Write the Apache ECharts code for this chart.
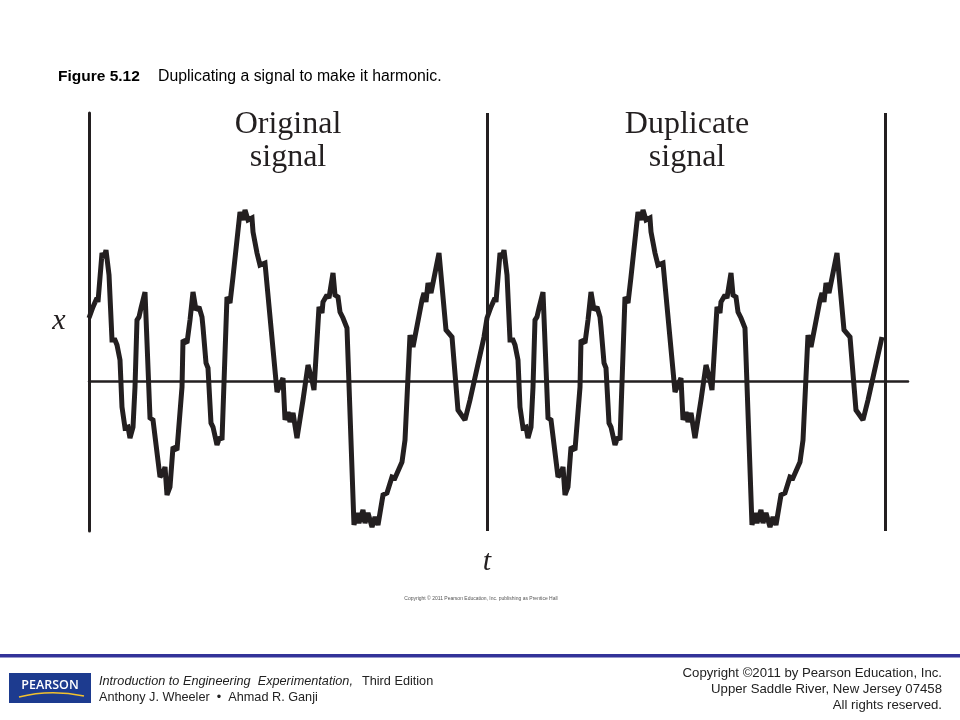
<!DOCTYPE html>
<html>
<head>
<meta charset="utf-8">
<script src="https://cdn.jsdelivr.net/npm/echarts@6/dist/echarts.min.js"></script>
<style>
  html, body { margin: 0; padding: 0; background: #ffffff; }
  #chart { width: 960px; height: 720px; }
</style>
</head>
<body>
<div id="chart"></div>
<script>
// time (one period = 100 units) of the original signal
var tOriginal = [0,1.0,2.0,2.26,3.27,3.77,4.27,4.77,5.03,5.53,
  5.78,6.53,7.04,7.54,7.79,8.29,8.54,9.05,9.80,10.30,
  11.06,11.56,12.06,12.56,13.07,13.57,14.07,15.33,16.08,17.84,
  18.59,19.10,19.60,20.35,21.11,22.11,23.37,23.62,24.62,25.38,
  26.13,26.88,27.64,28.39,28.64,29.40,29.90,30.65,31.16,32.16,
  32.91,33.42,34.67,35.43,36.18,37.94,38.69,39.20,39.95,40.95,
  41.21,41.71,42.21,42.96,44.22,47.24,47.99,48.74,49.25,50.00,
  50.50,51.26,52.26,53.77,55.03,56.03,56.53,57.79,58.54,58.79,
  59.80,60.30,61.31,61.81,62.56,63.07,63.82,64.82,66.58,67.34,
  67.84,68.84,69.35,70.10,71.11,71.86,72.61,73.87,74.87,76.13,
  76.88,78.64,79.40,80.65,81.41,83.67,84.17,84.67,85.18,85.93,
  87.94,89.70,91.21,92.71,94.47,95.73,99.25];
// signal amplitude of the original signal
var xOriginal = [1.26,1.48,1.66,1.58,2.56,2.46,2.62,2.62,2.12,2.08,
  0.82,0.82,0.72,0.72,0.42,-0.52,-0.54,-0.94,-0.92,-1.14,
  -0.92,-0.12,1.22,1.28,1.46,1.62,1.78,-0.74,-0.78,-1.92,
  -1.84,-1.72,-2.28,-2.12,-1.32,-1.38,-0.12,0.82,0.76,1.22,
  1.78,1.42,1.48,1.28,1.08,0.36,0.26,-0.84,-0.92,-1.28,
  -1.12,-1.18,1.68,1.56,2.08,3.38,3.22,3.42,3.22,3.26,
  2.98,3.02,2.56,2.32,2.36,-0.22,-0.08,0.06,-0.78,-0.62,
  -0.82,-0.64,-1.14,-0.38,0.32,0.02,-0.18,1.48,1.36,1.58,
  1.72,1.66,2.16,1.72,1.68,1.38,1.26,1.06,-2.88,-2.64,
  -2.84,-2.58,-2.84,-2.64,-2.92,-2.72,-2.88,-2.28,-2.24,-1.92,
  -1.94,-1.62,-1.18,0.92,0.68,1.62,1.76,1.58,1.96,1.76,
  2.56,1.02,0.88,-0.58,-0.78,-0.38,0.88];
var period = 100;
var boundaries = [100, 200];
var sectionLabels = ['Original\nsignal', 'Duplicate\nsignal'];

var signalData = [];
for (var k = 0; k < 2; k++) {
  for (var i = 0; i < tOriginal.length; i++) {
    signalData.push([tOriginal[i] + k * period, xOriginal[i]]);
  }
}

var ink = '#231f20';
var sans = '"Liberation Sans", Arial, sans-serif';
var serif = '"Liberation Serif", "Times New Roman", serif';
var chart = echarts.init(document.getElementById('chart'), null, { renderer: 'canvas' });
var option = {
  backgroundColor: '#ffffff',
  animation: false,
  grid: { left: 89, top: 113, width: 819, height: 418, containLabel: false },
  xAxis: {
    type: 'value', min: 0, max: 205.78,
    axisLine: { show: true, onZero: true, lineStyle: { color: ink, width: 2.5 } },
    axisTick: { show: false }, axisLabel: { show: false }, splitLine: { show: false }
  },
  yAxis: {
    type: 'value', min: -3, max: 5.36,
    axisLine: { show: true, lineStyle: { color: ink, width: 3 } },
    axisTick: { show: false }, axisLabel: { show: false }, splitLine: { show: false }
  },
  series: [{
    type: 'line',
    data: signalData,
    showSymbol: false,
    symbol: 'none',
    lineStyle: { color: ink, width: 5, join: 'miter', miterLimit: 1.8 },
    silent: true,
    markLine: {
      silent: true,
      symbol: 'none',
      label: { show: false },
      lineStyle: { color: ink, width: 3, type: 'solid' },
      data: boundaries.map(function (b) { return { xAxis: b }; })
    }
  }],
  graphic: [
    { type: 'text', x: 58, y: 77, style: { text: 'Figure 5.12', font: 'bold 15.5px ' + sans, fill: '#000', verticalAlign: 'middle' } },
    { type: 'text', x: 158, y: 77, style: { text: 'Duplicating a signal to make it harmonic.', font: '15.8px ' + sans, fill: '#000', verticalAlign: 'middle' } },
    { type: 'text', x: 288, y: 141, style: { text: sectionLabels[0], font: '32px ' + serif, fill: ink, align: 'center', verticalAlign: 'middle', lineHeight: 33 } },
    { type: 'text', x: 687, y: 141, style: { text: sectionLabels[1], font: '32px ' + serif, fill: ink, align: 'center', verticalAlign: 'middle', lineHeight: 33 } },
    { type: 'text', x: 59, y: 321, style: { text: 'x', font: 'italic 30px ' + serif, fill: ink, align: 'center', verticalAlign: 'middle' } },
    { type: 'text', x: 487, y: 562, style: { text: 't', font: 'italic 30px ' + serif, fill: ink, align: 'center', verticalAlign: 'middle' } },
    { type: 'text', x: 481, y: 599, style: { text: 'Copyright \u00a9 2011 Pearson Education, Inc. publishing as Prentice Hall', font: '5px ' + sans, fill: '#555', align: 'center', verticalAlign: 'middle' } },
    { type: 'rect', shape: { x: 0, y: 654, width: 960, height: 3.5 }, style: { fill: '#333399' } },
    { type: 'rect', shape: { x: 9, y: 673, width: 82, height: 30 }, style: { fill: '#1d3b8f' } },
    { type: 'text', x: 50, y: 685, style: { text: 'PEARSON', font: '600 12.5px "Open Sans", "Liberation Sans", sans-serif', fill: '#ffffff', align: 'center', verticalAlign: 'middle' } },
    { type: 'bezierCurve', shape: { x1: 19, y1: 697, cpx1: 50, cpy1: 689, x2: 84, y2: 696 }, style: { fill: null, stroke: '#f2c12e', lineWidth: 1.5 } },
    { type: 'text', x: 99, y: 681, style: { text: 'Introduction to Engineering  Experimentation,', font: 'italic 12.7px ' + sans, fill: '#222', verticalAlign: 'middle' } },
    { type: 'text', x: 362, y: 681, style: { text: 'Third Edition', font: '12.7px ' + sans, fill: '#222', verticalAlign: 'middle' } },
    { type: 'text', x: 99, y: 697, style: { text: 'Anthony J. Wheeler  \u2022  Ahmad R. Ganji', font: '12.7px ' + sans, fill: '#222', verticalAlign: 'middle' } },
    { type: 'text', x: 942, y: 673, style: { text: 'Copyright \u00a92011 by Pearson Education, Inc.', font: '13.2px ' + sans, fill: '#222', align: 'right', verticalAlign: 'middle' } },
    { type: 'text', x: 942, y: 689, style: { text: 'Upper Saddle River, New Jersey 07458', font: '13.2px ' + sans, fill: '#222', align: 'right', verticalAlign: 'middle' } },
    { type: 'text', x: 942, y: 705, style: { text: 'All rights reserved.', font: '13.2px ' + sans, fill: '#222', align: 'right', verticalAlign: 'middle' } }
  ]
};
chart.setOption(option);
</script>
</body>
</html>
